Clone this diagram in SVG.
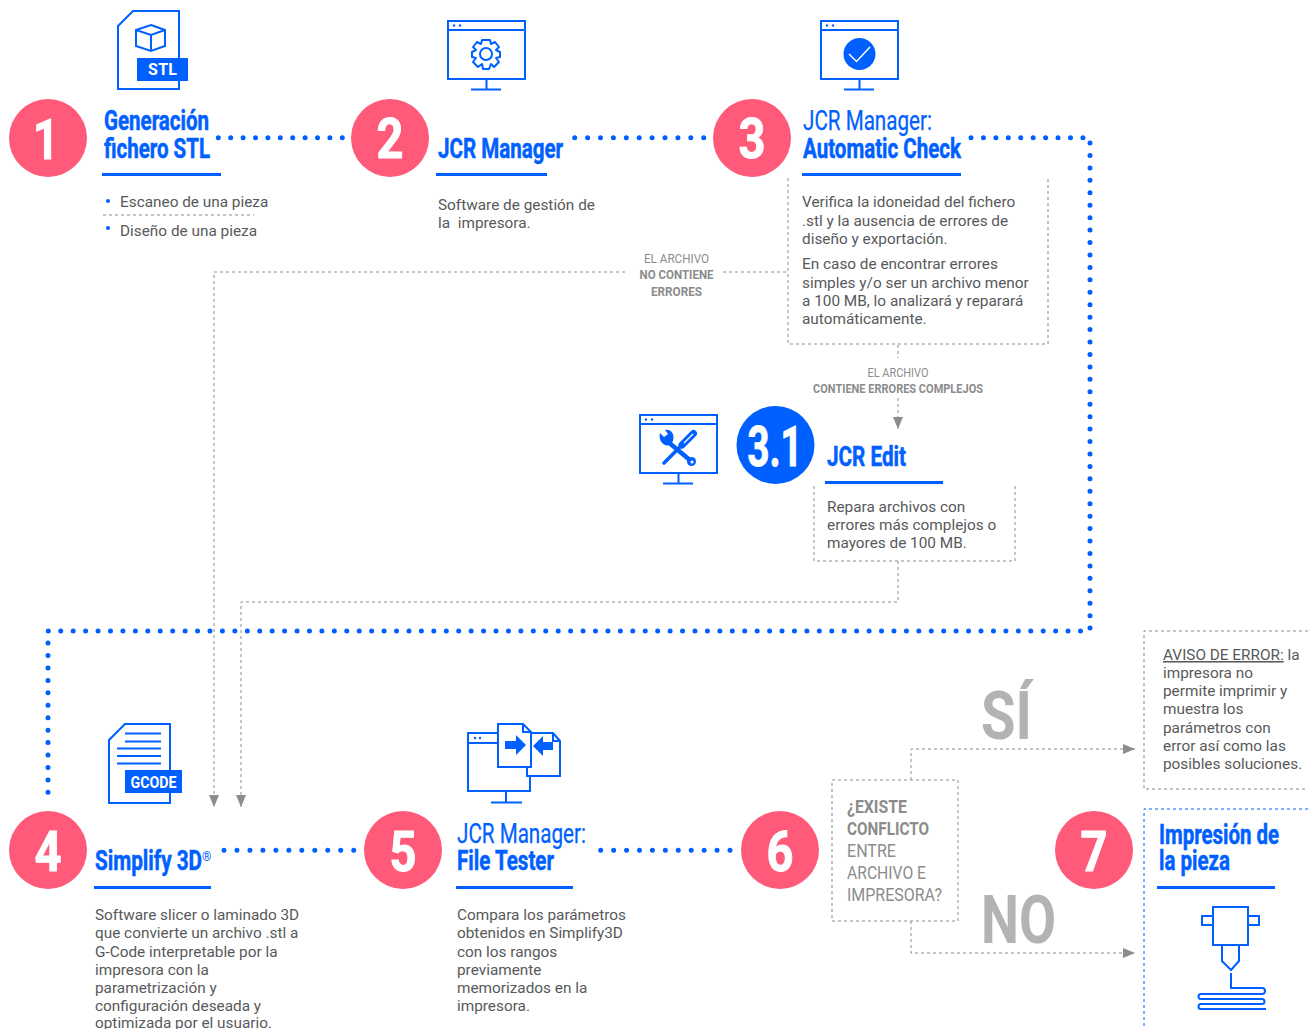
<svg xmlns="http://www.w3.org/2000/svg" width="1311" height="1029" viewBox="0 0 1311 1029">
<style>
text{font-family:Roboto,"Liberation Sans",sans-serif}
.body{font-size:15.35px;fill:#58595b}
.t{font-size:27px;fill:#0060ff;stroke:#0060ff;stroke-width:.5px;font-weight:700}
.tl{font-size:27px;fill:#0060ff;stroke:#0060ff;stroke-width:.25px;font-weight:400}
.num{font-size:56px;fill:#fff;stroke:#fff;stroke-width:1px;font-weight:700;text-anchor:middle}
.lab{font-size:13px;fill:#8c8c8c;text-anchor:middle}
.labb{font-size:13px;fill:#8c8c8c;font-weight:700;text-anchor:middle}
.q{font-size:18px;fill:#8c8c8c}
.big{font-size:66px;font-weight:700;fill:#b3b3b3}
.rule{stroke:#0060ff;stroke-width:3;fill:none}
.ic{stroke:#0060ff;stroke-width:2;fill:#fff}
.icn{stroke:#0060ff;stroke-width:2;fill:none}
.dots{stroke:#0060ff;stroke-width:5;stroke-linecap:round;fill:none}
.gd{stroke:#8c8c8c;stroke-width:1;stroke-dasharray:3 3;fill:none}
.pink{fill:#ff5a7a}
.blue{fill:#0060ff}
.tag{font-size:16px;fill:#fff;font-weight:700;text-anchor:middle}
</style>
<defs>
<marker id="ah" markerWidth="10" markerHeight="12" refX="5" refY="12" orient="0" viewBox="0 0 10 12" markerUnits="userSpaceOnUse"><path d="M0 0H10L5 12Z" fill="#8c8c8c"/></marker>
<marker id="ar" markerWidth="12" markerHeight="10" refX="12" refY="5" orient="0" viewBox="0 0 12 10" markerUnits="userSpaceOnUse"><path d="M0 0L12 5L0 10Z" fill="#8c8c8c"/></marker>
<g id="mon"><rect x="1" y="1" width="77" height="58" class="ic"/><path d="M1 10H78M39.500 59V69M24 69.500H54" class="icn"/><circle cx="7" cy="5.500" r="1.200" class="blue"/><circle cx="13" cy="5.500" r="1.200" class="blue"/></g>
</defs>
<rect width="1311" height="1029" fill="#fff"/>
<g id="connectors">
<path class="dots" stroke-dasharray="0 12.4" d="M218.300 137.700H343"/>
<path class="dots" stroke-dasharray="0 12.9" d="M574.700 137.700H704"/>
<path class="dots" stroke-dasharray="0 12.436" d="M971 137.700H1090V631H48V793"/>
<path class="dots" stroke-dasharray="0 12.97" d="M224 850.300H354"/>
<path class="dots" stroke-dasharray="0 12.93" d="M600.700 850.300H730.300"/>
<path class="gd" d="M625 272H214V807" marker-end="url(#ah)"/>
<path class="gd" d="M723 272H788"/>
<path class="gd" d="M898 345V358"/>
<path class="gd" d="M898 398V429" marker-end="url(#ah)"/>
<path class="gd" d="M898 561V602H241V807" marker-end="url(#ah)"/>
<path class="gd" d="M911 780V749H1135" marker-end="url(#ar)"/>
<path class="gd" d="M911 921V953H1135" marker-end="url(#ar)"/>
</g>
<g id="n1">
<path d="M118 26L133 11H179V89H118Z" class="ic"/>
<path d="M151 25L165 30V46L151 51L136 46V30ZM136 30L151 35L165 30M151 35V51" class="icn"/>
<rect x="137" y="58" width="51" height="23" class="blue"/><text class="tag" x="162.500" y="75" textLength="29" lengthAdjust="spacing">STL</text>
<circle cx="48" cy="138" r="39" class="pink"/><text class="num" x="46" y="159" textLength="26" lengthAdjust="spacingAndGlyphs">1</text>
<text class="t" x="104" y="130" textLength="105" lengthAdjust="spacingAndGlyphs">Generación</text>
<text class="t" x="104" y="158" textLength="106" lengthAdjust="spacingAndGlyphs">fichero STL</text>
<path class="rule" d="M102 174.500H221"/>
<circle cx="108" cy="201" r="2" class="blue"/><text class="body" x="120" y="207">Escaneo de una pieza</text>
<path class="gd" d="M103 215H254"/>
<circle cx="108" cy="228" r="2" class="blue"/><text class="body" x="120" y="236">Diseño de una pieza</text>
</g>
<g id="n2">
<use href="#mon" x="447" y="20"/>
<g transform="translate(486 54)"><circle r="6" class="icn"/><path class="icn" d="M-4 -14L4 -14L5 -10L9 -12L13 -7L10 -4L14 -2V3L10 4L13 8L8 13L5 10L3 15H-3L-4 10L-8 13L-13 8L-10 4L-14 3V-2L-10 -4L-13 -7L-9 -12L-5 -10Z" stroke-linejoin="round"/></g>
<circle cx="390" cy="138" r="39" class="pink"/><text class="num" x="390" y="158" textLength="27" lengthAdjust="spacingAndGlyphs">2</text>
<text class="t" x="438" y="158" textLength="125" lengthAdjust="spacingAndGlyphs">JCR Manager</text>
<path class="rule" d="M436 174.500H547"/>
<text class="body" x="438" y="210">Software de gestión de</text>
<text class="body" x="438" y="228" xml:space="preserve">la  impresora.</text>
</g>
<g id="n3">
<use href="#mon" x="820" y="20"/>
<circle cx="859.500" cy="54" r="16" class="blue"/><path d="M849 54L856.500 61.500L870 47" fill="none" stroke="#fff" stroke-width="1.500"/>
<circle cx="752" cy="138" r="39" class="pink"/><text class="num" x="752" y="158" textLength="27" lengthAdjust="spacingAndGlyphs">3</text>
<text class="tl" x="803" y="130" textLength="129" lengthAdjust="spacingAndGlyphs">JCR Manager:</text>
<text class="t" x="803" y="158" textLength="158" lengthAdjust="spacingAndGlyphs">Automatic Check</text>
<path class="rule" d="M802 174.500H961"/>
<path class="gd" d="M788 178V344H1048V178"/>
<text class="body" x="802" y="207">Verifica la idoneidad del fichero</text>
<text class="body" x="802" y="226">.stl y la ausencia de errores de</text>
<text class="body" x="802" y="244">diseño y exportación.</text>
<text class="body" x="802" y="269">En caso de encontrar errores</text>
<text class="body" x="802" y="288">simples y/o ser un archivo menor</text>
<text class="body" x="802" y="306">a 100 MB, lo analizará y reparará</text>
<text class="body" x="802" y="324">automáticamente.</text>
</g>
<g id="lab1"><text class="lab" x="676.500" y="263" textLength="65" lengthAdjust="spacingAndGlyphs">EL ARCHIVO</text><text class="labb" x="676.500" y="279" textLength="74" lengthAdjust="spacingAndGlyphs">NO CONTIENE</text><text class="labb" x="676.500" y="296" textLength="51" lengthAdjust="spacingAndGlyphs">ERRORES</text></g>
<g id="lab2"><text class="lab" x="898" y="377" textLength="61" lengthAdjust="spacingAndGlyphs">EL ARCHIVO</text><text class="labb" x="898" y="393" textLength="170" lengthAdjust="spacingAndGlyphs">CONTIENE ERRORES COMPLEJOS</text></g>
<g id="n31">
<use href="#mon" x="639" y="414"/>
<path d="M681 446L664 463" stroke="#0060ff" stroke-width="3.500" stroke-linecap="round" fill="none"/>
<path d="M682 445L693.500 433.500" stroke="#0060ff" stroke-width="7" stroke-linecap="round" fill="none"/>
<path d="M684 443L693 434" stroke="#fff" stroke-width="1.200" fill="none"/>
<path d="M667 441L691 461" stroke="#0060ff" stroke-width="4.500" fill="none"/>
<path d="M660 433L664 437L668 434L665 430C671 429 675 434 673 441L670 445C664 447 658 441 660 433Z" class="blue"/>
<circle cx="691.500" cy="461.500" r="4.500" class="blue"/><circle cx="692" cy="462" r="1.500" fill="#fff"/>
<circle cx="775.500" cy="445" r="39" class="blue"/><text class="num" x="775" y="466" textLength="55" lengthAdjust="spacingAndGlyphs" stroke-width="1.500">3.1</text>
<text class="t" x="827" y="466" textLength="79" lengthAdjust="spacingAndGlyphs">JCR Edit</text>
<path class="rule" d="M825 482.500H943"/>
<path class="gd" d="M814 486V561H1015V486"/>
<text class="body" x="827" y="512">Repara archivos con</text>
<text class="body" x="827" y="530">errores más complejos o</text>
<text class="body" x="827" y="548">mayores de 100 MB.</text>
</g>
<g id="n4">
<path d="M125 724H170V803H109V740Z" class="ic"/><path d="M125 733.500H161M125 741.500H161M117 748.500H161M117 756H161M117 763.500H161" class="icn"/>
<rect x="125" y="770" width="57" height="23" class="blue"/><text class="tag" x="153.500" y="788" textLength="46" lengthAdjust="spacingAndGlyphs">GCODE</text>
<circle cx="48" cy="850" r="39" class="pink"/><text class="num" x="48" y="871" textLength="27" lengthAdjust="spacingAndGlyphs">4</text>
<text class="t" x="95" y="870" textLength="107" lengthAdjust="spacingAndGlyphs">Simplify 3D</text><text x="202" y="861" font-size="12" fill="#0060ff">®</text>
<path class="rule" d="M94 887.500H211"/>
<text class="body" x="95" y="920">Software slicer o laminado 3D</text>
<text class="body" x="95" y="938">que convierte un archivo .stl a</text>
<text class="body" x="95" y="957">G-Code interpretable por la</text>
<text class="body" x="95" y="975">impresora con la</text>
<text class="body" x="95" y="993">parametrización y</text>
<text class="body" x="95" y="1011">configuración deseada y</text>
<text class="body" x="95" y="1028">optimizada por el usuario.</text>
</g>
<g id="n5">
<path d="M468 733H530V791H468ZM468 743H530M506 791V802M491 802.500H522" class="icn"/>
<circle cx="475" cy="738" r="1.200" class="blue"/><circle cx="480" cy="738" r="1.200" class="blue"/>
<path d="M527 733H553L560 741V776H527Z" class="ic"/><path d="M553 733V741H560" class="icn"/>
<path d="M498 724H523L531 732V767H498Z" class="ic"/><path d="M523 724V732H531" class="icn"/>
<path d="M505 741H516V735L526 745L516 755V749H505Z" class="blue"/>
<path d="M553 742H543V736L533 746L543 756V750H553Z" class="blue"/>
<circle cx="403" cy="850" r="39" class="pink"/><text class="num" x="403" y="871" textLength="27" lengthAdjust="spacingAndGlyphs">5</text>
<text class="tl" x="457" y="843" textLength="129" lengthAdjust="spacingAndGlyphs">JCR Manager:</text>
<text class="t" x="457" y="870" textLength="97" lengthAdjust="spacingAndGlyphs">File Tester</text>
<path class="rule" d="M456 887.500H573"/>
<text class="body" x="457" y="920">Compara los parámetros</text>
<text class="body" x="457" y="938">obtenidos en Simplify3D</text>
<text class="body" x="457" y="957">con los rangos</text>
<text class="body" x="457" y="975">previamente</text>
<text class="body" x="457" y="993">memorizados en la</text>
<text class="body" x="457" y="1011">impresora.</text>
</g>
<g id="n6">
<circle cx="780" cy="850" r="39" class="pink"/><text class="num" x="780" y="871" textLength="27" lengthAdjust="spacingAndGlyphs">6</text>
<rect x="832" y="780" width="126" height="141" class="gd"/>
<text class="q" x="847" y="813" font-weight="700" textLength="60" lengthAdjust="spacingAndGlyphs">¿EXISTE</text>
<text class="q" x="847" y="835" font-weight="700" textLength="82" lengthAdjust="spacingAndGlyphs">CONFLICTO</text>
<text class="q" x="847" y="857" textLength="49" lengthAdjust="spacingAndGlyphs">ENTRE</text>
<text class="q" x="847" y="879" textLength="79" lengthAdjust="spacingAndGlyphs">ARCHIVO E</text>
<text class="q" x="847" y="901" textLength="95" lengthAdjust="spacingAndGlyphs">IMPRESORA?</text>
<text class="big" x="981" y="739" textLength="51" lengthAdjust="spacingAndGlyphs">SÍ</text>
<text class="big" x="981" y="943" textLength="75" lengthAdjust="spacingAndGlyphs">NO</text>
</g>
<g id="aviso">
<path class="gd" d="M1308 631H1144V789H1308"/>
<text class="body" x="1163" y="660"><tspan text-decoration="underline">AVISO DE ERROR:</tspan> la</text>
<text class="body" x="1163" y="678">impresora no</text>
<text class="body" x="1163" y="696">permite imprimir y</text>
<text class="body" x="1163" y="714">muestra los</text>
<text class="body" x="1163" y="733">parámetros con</text>
<text class="body" x="1163" y="751">error así como las</text>
<text class="body" x="1163" y="769">posibles soluciones.</text>
</g>
<g id="n7">
<circle cx="1094" cy="850" r="39" class="pink"/><text class="num" x="1094" y="871" textLength="27" lengthAdjust="spacingAndGlyphs">7</text>
<path d="M1308 809H1144V1029" fill="none" stroke="#0060ff" stroke-dasharray="3 3"/>
<text class="t" x="1159" y="844" textLength="120" lengthAdjust="spacingAndGlyphs">Impresión de</text>
<text class="t" x="1159" y="870" textLength="71" lengthAdjust="spacingAndGlyphs">la pieza</text>
<path class="rule" d="M1157 887.500H1275"/>
<rect x="1202" y="916" width="11" height="9" class="ic"/><rect x="1248" y="916" width="11" height="9" class="ic"/>
<rect x="1213" y="907" width="35" height="38" class="ic"/>
<path d="M1222 945V961L1231 970L1239 961V945M1231 973V988H1262A3 3 0 0 1 1262 994H1201A2.500 2.500 0 0 0 1201 999H1262A2.500 2.500 0 0 1 1262 1004H1201A2.500 2.500 0 0 0 1201 1009H1266" class="icn"/>
</g>
</svg>
